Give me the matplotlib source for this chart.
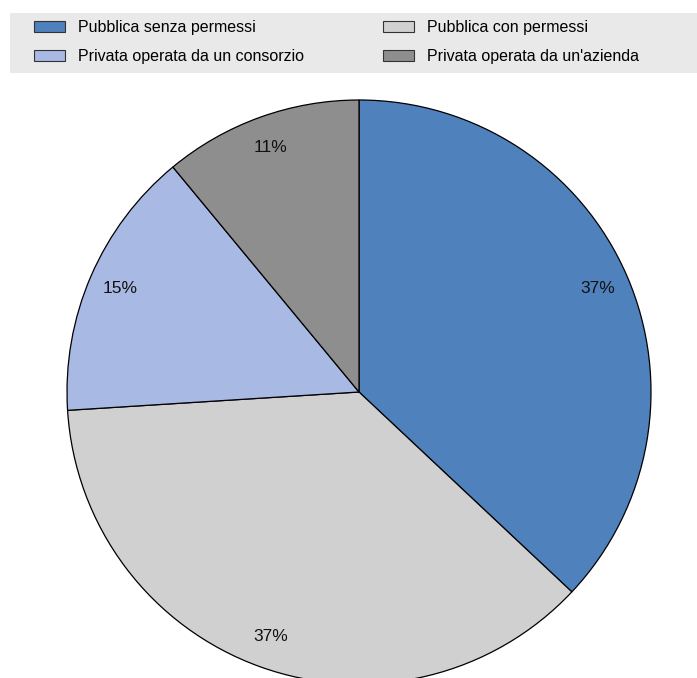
import matplotlib
matplotlib.use("Agg")
import matplotlib.pyplot as plt
from matplotlib.patches import Rectangle, Patch

plt.rcParams['font.family'] = ['Liberation Sans', 'DejaVu Sans']

# Share of each type of access
categories = ["Pubblica senza permessi", "Pubblica con permessi",
              "Privata operata da un consorzio", "Privata operata da un'azienda"]
shares = [37, 37, 15, 11]
colors = ["#4f81bd", "#d0d0d0", "#a8b9e3", "#8e8e8e"]

W, H = 697, 678
fig = plt.figure(figsize=(W / 100, H / 100), dpi=100)

# Legend band across the top
fig.patches.append(Rectangle((10 / W, 1 - 73 / H), 1 - 10 / W, 60 / H,
                             transform=fig.transFigure, facecolor="#e9e9e9",
                             edgecolor="none", zorder=0))

# Pie axes: centre (359, 392) px, radius 292 px
cx, cy, r = 359, 392, 292
ax = fig.add_axes([(cx - r) / W, (H - cy - r) / H, 2 * r / W, 2 * r / H])
wedges, texts, autotexts = ax.pie(
    shares, colors=colors, startangle=90, counterclock=False,
    autopct=lambda p: f"{p:.0f}%", pctdistance=0.89,
    wedgeprops=dict(edgecolor="black", linewidth=0.9),
    textprops=dict(fontsize=12.5, color="#111111"))
for w in wedges:
    w.set_clip_on(False)
ax.set_xlim(-1, 1)
ax.set_ylim(-1, 1)
ax.set_aspect("auto")
ax.axis("off")

# Two legend columns
fs = 11.5
handles = [Patch(facecolor=c, edgecolor="#333333", linewidth=0.8) for c in colors]
for order, x0 in (([0, 2], 28), ([1, 3], 377)):
    fig.legend([handles[i] for i in order], [categories[i] for i in order],
               loc="upper left", bbox_to_anchor=(x0 / W, 1 - 14 / H),
               frameon=False, fontsize=fs, handlelength=1.9, handleheight=0.7,
               handletextpad=0.85, labelspacing=0.85, borderaxespad=0)

fig.savefig("out.png", dpi=100)
